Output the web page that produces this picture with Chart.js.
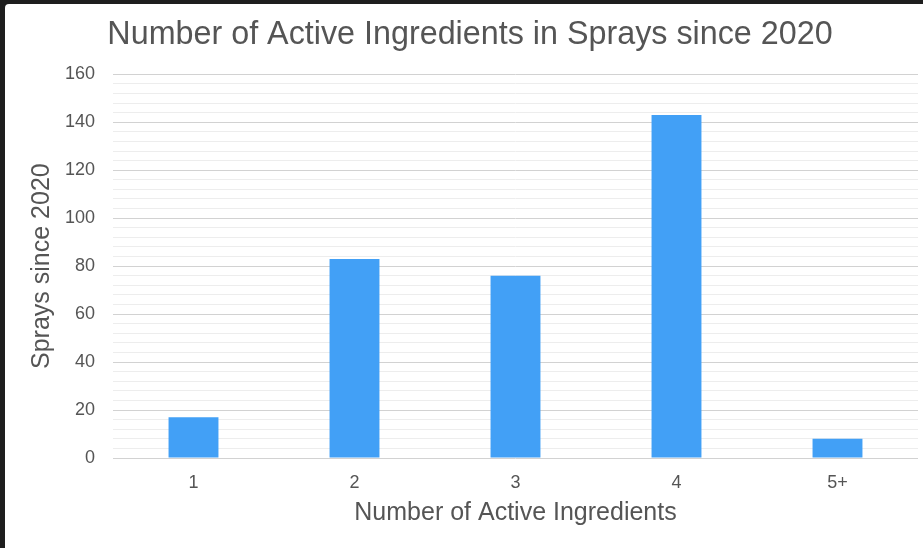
<!DOCTYPE html>
<html>
<head>
<meta charset="utf-8">
<script src="https://cdn.jsdelivr.net/npm/chart.js@4"></script>
<style>
  html, body { margin: 0; padding: 0; }
  body { width: 923px; height: 548px; background: #1e1e1e; position: relative; overflow: hidden; }
  #card { position: absolute; left: 5px; top: 4px; right: 0; bottom: 0; background: #fff; border-top-left-radius: 4px; }
  #wrap { position: absolute; left: 0; top: 0; width: 923px; height: 548px; }
</style>
</head>
<body>
<div id="card"></div>
<div id="wrap"><canvas id="sprayChart"></canvas></div>
<script>
const categories = ['1', '2', '3', '4', '5+'];
const sprays = [17, 83, 76, 143, 8];
const yMax = 160;
const yStep = 4;       // minor grid step
const yLabelStep = 20; // labelled / major grid step

const textColor = '#555555';
const fontFamily = 'Helvetica, Arial, "Liberation Sans", sans-serif';

const ctx = document.getElementById('sprayChart').getContext('2d');
new Chart(ctx, {
    type: 'bar',
    data: {
        labels: categories,
        datasets: [{
            label: 'Sprays since 2020',
            data: sprays,
            backgroundColor: '#42a0f6',
            borderWidth: 0,
            categoryPercentage: 1,
            barPercentage: 0.31
        }]
    },
    options: {
        responsive: true,
        maintainAspectRatio: false,
        animation: false,
        layout: { padding: { left: 22, right: 5, top: 0, bottom: 0 } },
        plugins: {
            legend: { display: false },
            tooltip: { enabled: false },
            title: {
                display: true,
                text: 'Number of Active Ingredients in Sprays since 2020',
                color: textColor,
                font: { family: fontFamily, size: 32.3, weight: 'normal' },
                padding: { top: 15.5, bottom: 20 }
            }
        },
        scales: {
            x: {
                afterFit: scale => { scale.height = 90; },
                grid: { display: false, drawTicks: false },
                border: { display: false },
                ticks: { color: textColor, font: { family: fontFamily, size: 18 }, padding: 14 },
                title: {
                    display: true,
                    text: 'Number of Active Ingredients',
                    color: textColor,
                    font: { family: fontFamily, size: 25 },
                    padding: { top: 4, bottom: 20 }
                }
            },
            y: {
                min: 0,
                max: yMax,
                afterFit: scale => { scale.width = 91; },
                grid: {
                    drawTicks: false,
                    color: c => (c.tick && c.tick.value % yLabelStep === 0) ? '#d2d2d2' : '#ededed',
                    lineWidth: 1
                },
                border: { display: false },
                ticks: {
                    stepSize: yStep,
                    autoSkip: false,
                    color: textColor,
                    font: { family: fontFamily, size: 18 },
                    padding: 18,
                    callback: v => (v % yLabelStep === 0 ? v : '')
                },
                title: {
                    display: true,
                    text: 'Sprays since 2020',
                    color: textColor,
                    font: { family: fontFamily, size: 25 },
                    padding: { top: 5, bottom: 4 }
                }
            }
        }
    }
});
</script>
</body>
</html>
